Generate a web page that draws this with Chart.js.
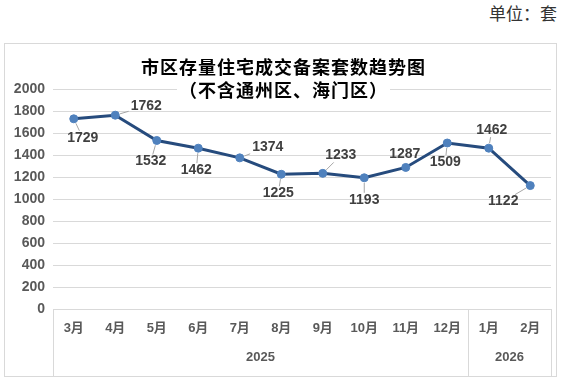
<!DOCTYPE html>
<html>
<head>
<meta charset="utf-8">
<script src="https://cdn.jsdelivr.net/npm/chart.js@4"></script>
<style>
    body { margin: 0; background: #fff; width: 563px; height: 380px; position: relative; overflow: hidden; }
    .unit { position: absolute; right: 6px; top: 0px; font: 17px "Noto Sans CJK SC", sans-serif; color: #333; }
    .chart-container { position: absolute; left: 4px; top: 43px; width: 551px; height: 332px; border: 1px solid #d9d9d9; }
</style>
</head>
<body>
<div class="unit">单位：套</div>
<div class="chart-container">
    <canvas id="trendChart"></canvas>
</div>

<script>
    const months = ['3月', '4月', '5月', '6月', '7月', '8月', '9月', '10月', '11月', '12月', '1月', '2月'];
    const values = [1729, 1762, 1532, 1462, 1374, 1225, 1233, 1193, 1287, 1509, 1462, 1122];
    const years = ['2025', '2026'];
    const yearSpans = [10, 2];
    const titleLines = ['市区存量住宅成交备案套数趋势图', '（不含通州区、海门区）'];

    // where each value label sits relative to its point (px)
    const labelOffsets = [[9, 19], [31, -9], [-6, 21], [-2, 22], [28, -11], [-3, 19],
                          [18, -18], [0, 22], [-1, -13], [-2, 19], [3, -18], [-27, 16]];

    const numFont = 'bold 14px "Liberation Sans", Arial, sans-serif';

    const valueLabels = {
        id: 'valueLabels',
        afterDatasetsDraw(chart) {
            const ctx = chart.ctx;
            const meta = chart.getDatasetMeta(0);
            ctx.save();
            ctx.font = numFont;
            ctx.textAlign = 'center';
            ctx.textBaseline = 'middle';
            meta.data.forEach((pt, i) => {
                const [dx, dy] = labelOffsets[i];
                const cx = pt.x + dx, cy = pt.y + dy;
                const text = String(values[i]);
                const hw = ctx.measureText(text).width / 2 + 2, hh = 7;
                // leader line from point to the label box edge
                const sx = Math.abs(dx) > 0 ? hw / Math.abs(dx) : Infinity;
                const sy = Math.abs(dy) > 0 ? hh / Math.abs(dy) : Infinity;
                const s = Math.min(sx, sy);
                const ex = cx - dx * s, ey = cy - dy * s;
                const len = Math.hypot(dx, dy);
                const bx = pt.x + dx / len * 5, by = pt.y + dy / len * 5;
                if (Math.hypot(ex - bx, ey - by) > 2 && s < 1) {
                    ctx.strokeStyle = '#a6a6a6';
                    ctx.lineWidth = 1;
                    ctx.beginPath();
                    ctx.moveTo(bx, by);
                    ctx.lineTo(ex, ey);
                    ctx.stroke();
                }
                ctx.fillStyle = '#404040';
                ctx.fillText(text, cx, cy);
            });
            ctx.restore();
        }
    };

    const decorations = {
        id: 'decorations',
        afterDraw(chart) {
            const ctx = chart.ctx;
            const x = chart.scales.x;
            const area = chart.chartArea;
            const step = (area.right - area.left) / months.length;
            ctx.save();
            // group separators under the axis
            ctx.strokeStyle = '#d9d9d9';
            ctx.lineWidth = 1;
            let idx = 0;
            const edges = [area.left];
            yearSpans.forEach(n => { idx += n; edges.push(area.left + idx * step); });
            edges.forEach(ex => {
                ctx.beginPath();
                ctx.moveTo(Math.round(ex) + 0.5, area.bottom);
                ctx.lineTo(Math.round(ex) + 0.5, chart.height);
                ctx.stroke();
            });
            // year labels
            ctx.font = 'bold 13px "Liberation Sans", Arial, sans-serif';
            ctx.fillStyle = '#595959';
            ctx.textAlign = 'center';
            ctx.textBaseline = 'middle';
            let start = 0;
            years.forEach((yr, k) => {
                const end = start + yearSpans[k] - 1;
                const cx = (x.getPixelForValue(start) + x.getPixelForValue(end)) / 2;
                ctx.fillText(yr, cx, area.bottom + 48);
                start = end + 1;
            });
            // title
            ctx.font = 'bold 18px "Noto Sans CJK SC", sans-serif';
            ctx.letterSpacing = '1px';
            const tx = chart.width / 2 + 3;
            titleLines.forEach((line, k) => {
                const ty = 23 + k * 23;
                const w = ctx.measureText(line).width;
                ctx.fillStyle = '#fff';
                ctx.fillRect(tx - w / 2 - 2, ty - 10, w + 4, 20);
                ctx.fillStyle = '#000';
                ctx.fillText(line, tx, ty);
            });
            ctx.restore();
        }
    };

    const ctx = document.getElementById('trendChart').getContext('2d');
    new Chart(ctx, {
        type: 'line',
        data: {
            labels: months,
            datasets: [{
                data: values,
                borderColor: '#264b7d',
                borderWidth: 3,
                tension: 0,
                pointRadius: 4,
                pointBackgroundColor: '#4f81bd',
                pointBorderColor: '#4f81bd',
                pointBorderWidth: 1
            }]
        },
        options: {
            responsive: true,
            maintainAspectRatio: false,
            animation: false,
            layout: { padding: { top: 45, right: 1, left: 0, bottom: 0 } },
            plugins: {
                legend: { display: false },
                tooltip: { enabled: false }
            },
            scales: {
                x: {
                    offset: true,
                    grid: { display: false, drawTicks: false, offset: true },
                    border: { display: false },
                    ticks: {
                        color: '#595959',
                        font: { family: '"Liberation Sans", "Noto Sans CJK SC", sans-serif', size: 13, weight: 'bold' },
                        padding: 12,
                        maxRotation: 0,
                        autoSkip: false
                    },
                    afterFit(scale) { scale.height = 67; }
                },
                y: {
                    min: 0,
                    max: 2000,
                    grid: { color: '#d9d9d9', drawTicks: false },
                    border: { display: false },
                    ticks: {
                        stepSize: 200,
                        color: '#595959',
                        font: { family: '"Liberation Sans", Arial, sans-serif', size: 14, weight: 'bold' },
                        padding: 8,
                        callback: v => String(v)
                    },
                    afterFit(scale) { scale.width = 48; }
                }
            }
        },
        plugins: [valueLabels, decorations]
    });
</script>
</body>
</html>
